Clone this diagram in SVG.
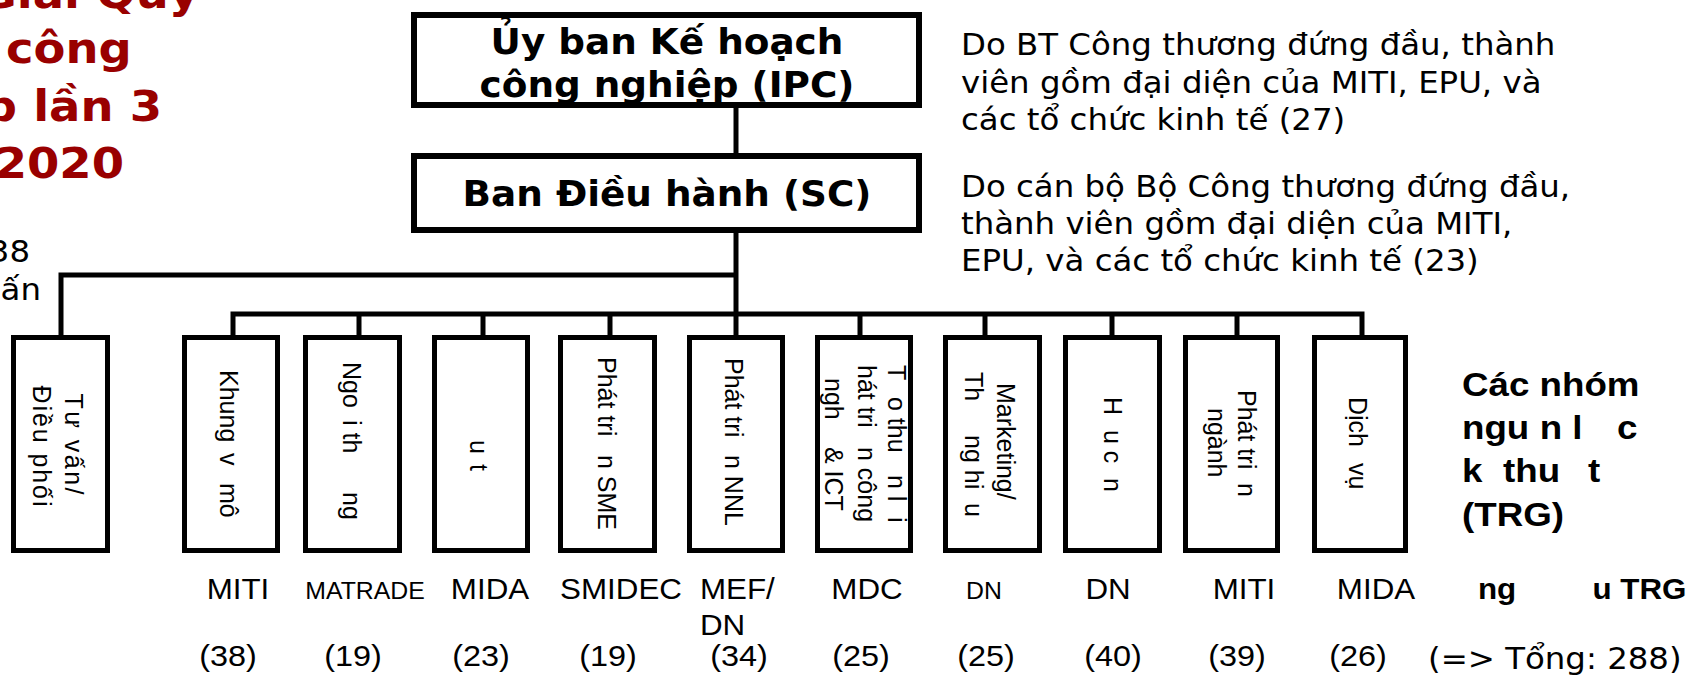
<svg xmlns="http://www.w3.org/2000/svg" width="1694" height="682" viewBox="0 0 1694 682">
<style>
.bigbox{fill:#fff;stroke:#000;stroke-width:6}
.box{fill:#fff;stroke:#000;stroke-width:5}
.wire{fill:none;stroke:#000;stroke-width:5;stroke-linejoin:miter;stroke-linecap:butt}
.vt{font-family:"DejaVu Sans",Verdana,sans-serif;font-size:30px;fill:#000}
.vb{font-family:"DejaVu Sans",Verdana,sans-serif;font-weight:bold;font-size:34.6px;fill:#000}
.title{font-family:"DejaVu Sans",Verdana,sans-serif;font-weight:bold;font-size:43px;fill:#990000}
.rot{font-family:"Liberation Sans",Arial,sans-serif;font-size:25px;fill:#000}
.lab{font-family:"Liberation Sans",Arial,sans-serif;font-size:29px;fill:#000;text-anchor:middle}
.cnt{font-size:30px}
.labs{font-size:23px}
.ab{font-family:"Liberation Sans",Arial,sans-serif;font-weight:bold;fill:#000}
</style>
<rect x="0" y="0" width="1694" height="682" fill="#fff"/>

<g id="title">
<text class="title" transform="translate(199,8) scale(1.08 1)" text-anchor="end">Giai Quy</text>
<text class="title" transform="translate(6,63) scale(1.08 1)">công</text>
<text class="title" transform="translate(162,121) scale(1.08 1)" text-anchor="end">p lần 3</text>
<text class="title" transform="translate(124,178) scale(1.08 1)" text-anchor="end">2020</text>
</g>

<g id="left-note">
<text class="vt" transform="translate(30,262) scale(1.08 1)" text-anchor="end">38</text>
<text class="vt" transform="translate(41,300) scale(1.08 1)" text-anchor="end">ấn</text>
</g>

<g id="connectors">
<path class="wire" d="M736,108 V153"/>
<path class="wire" d="M736,233 V335"/>
<path class="wire" d="M736,275 H61 V335"/>
<path class="wire" d="M233,335 V314 H1362 V335"/>
<path class="wire" d="M359,314 V335 M483,314 V335 M610,314 V335 M860,314 V335 M985,314 V335 M1112,314 V335 M1237,314 V335"/>
</g>

<g id="ipc">
<rect class="bigbox" x="414" y="15" width="505" height="90"/>
<text class="vb" transform="translate(667,54) scale(1.08 1)" text-anchor="middle">Ủy ban Kế hoạch</text>
<text class="vb" transform="translate(667,97) scale(1.08 1)" text-anchor="middle">công nghiệp (IPC)</text>
</g>

<g id="sc">
<rect class="bigbox" x="414" y="156" width="505" height="74"/>
<text class="vb" transform="translate(667,206) scale(1.08 1)" text-anchor="middle">Ban Điều hành (SC)</text>
</g>

<g id="ipc-note">
<text class="vt" transform="translate(961,55) scale(1.08 1)">Do BT Công thương đứng đầu, thành</text>
<text class="vt" transform="translate(961,93) scale(1.08 1)">viên gồm đại diện của MITI, EPU, và</text>
<text class="vt" transform="translate(961,130) scale(1.08 1)">các tổ chức kinh tế (27)</text>
</g>

<g id="sc-note">
<text class="vt" transform="translate(961,197) scale(1.08 1)">Do cán bộ Bộ Công thương đứng đầu,</text>
<text class="vt" transform="translate(961,234) scale(1.08 1)">thành viên gồm đại diện của MITI,</text>
<text class="vt" transform="translate(961,271) scale(1.08 1)">EPU, và các tổ chức kinh tế (23)</text>
</g>

<g id="tu-van">
<rect class="box" x="13.5" y="337.5" width="94" height="213"/>
<text class="rot" font-size="27" transform="translate(65,444) rotate(90)" text-anchor="middle" textLength="101" lengthAdjust="spacing">Tư vấn/</text>
<text class="rot" font-size="27" transform="translate(33,446) rotate(90)" text-anchor="middle" textLength="121" lengthAdjust="spacing">Điều phối</text>
</g>

<g id="trg1">
<rect class="box" x="184.5" y="337.5" width="93" height="213"/>
<text class="rot" transform="translate(220,370) rotate(90)"><tspan x="0">Khung</tspan><tspan x="83">v</tspan><tspan x="113">mô</tspan></text>
<text class="lab" transform="translate(238,599) scale(1.08 1)">MITI</text>
<text class="lab cnt" transform="translate(228,666) scale(1.08 1)">(38)</text>
</g>

<g id="trg2">
<rect class="box" x="305.5" y="337.5" width="94" height="213"/>
<text class="rot" transform="translate(343,362) rotate(90)"><tspan x="0">Ngo</tspan><tspan x="58">i th</tspan><tspan x="130">ng</tspan></text>
<text class="lab labs" transform="translate(365,599) scale(1.08 1)">MATRADE</text>
<text class="lab cnt" transform="translate(353,666) scale(1.08 1)">(19)</text>
</g>

<g id="trg3">
<rect class="box" x="434.5" y="337.5" width="93" height="213"/>
<text class="rot" transform="translate(470,440) rotate(90)"><tspan x="0">u</tspan><tspan x="24">t</tspan></text>
<text class="lab" transform="translate(490,599) scale(1.08 1)">MIDA</text>
<text class="lab cnt" transform="translate(481,666) scale(1.08 1)">(23)</text>
</g>

<g id="trg4">
<rect class="box" x="560.5" y="337.5" width="94" height="213"/>
<text class="rot" transform="translate(598,357) rotate(90)"><tspan x="0">Phát tri</tspan><tspan x="98">n SME</tspan></text>
<text class="lab" transform="translate(621,599) scale(1.08 1)">SMIDEC</text>
<text class="lab cnt" transform="translate(608,666) scale(1.08 1)">(19)</text>
</g>

<g id="trg5">
<rect class="box" x="689.5" y="337.5" width="93" height="213"/>
<text class="rot" transform="translate(725,358) rotate(90)"><tspan x="0">Phát tri</tspan><tspan x="97">n NNL</tspan></text>
<text class="lab" transform="translate(700,599) scale(1.08 1)" style="text-anchor:start">MEF/</text>
<text class="lab" transform="translate(700,635) scale(1.08 1)" style="text-anchor:start">DN</text>
<text class="lab cnt" transform="translate(739,666) scale(1.08 1)">(34)</text>
</g>

<g id="trg6">
<rect class="box" x="817.5" y="337.5" width="93" height="213"/>
<text class="rot" transform="translate(888,365) rotate(90)"><tspan x="0" y="0">T</tspan><tspan x="32" y="0">o thu</tspan><tspan x="110" y="0">n l</tspan><tspan x="152" y="0">i</tspan><tspan x="0" y="30">hát tri</tspan><tspan x="82" y="30">n công</tspan><tspan x="13" y="63">ngh</tspan><tspan x="82" y="63">&amp; ICT</tspan></text>
<text class="lab" transform="translate(867,599) scale(1.08 1)">MDC</text>
<text class="lab cnt" transform="translate(861,666) scale(1.08 1)">(25)</text>
</g>

<g id="trg7">
<rect class="box" x="945.5" y="337.5" width="94" height="213"/>
<text class="rot" transform="translate(997,372) rotate(90)"><tspan x="11" y="0">Marketing/</tspan><tspan x="0" y="32">Th</tspan><tspan x="63" y="32">ng hi</tspan><tspan x="131" y="32">u</tspan></text>
<text class="lab labs" transform="translate(984,599) scale(1.08 1)">DN</text>
<text class="lab cnt" transform="translate(986,666) scale(1.08 1)">(25)</text>
</g>

<g id="trg8">
<rect class="box" x="1065.5" y="337.5" width="94" height="213"/>
<text class="rot" transform="translate(1104,397) rotate(90)"><tspan x="0">H</tspan><tspan x="33">u c</tspan><tspan x="81">n</tspan></text>
<text class="lab" transform="translate(1108,599) scale(1.08 1)">DN</text>
<text class="lab cnt" transform="translate(1113,666) scale(1.08 1)">(40)</text>
</g>

<g id="trg9">
<rect class="box" x="1185.5" y="337.5" width="92" height="213"/>
<text class="rot" transform="translate(1238,390) rotate(90)"><tspan x="0" y="0">Phát tri</tspan><tspan x="93" y="0">n</tspan><tspan x="18" y="30">ngành</tspan></text>
<text class="lab" transform="translate(1244,599) scale(1.08 1)">MITI</text>
<text class="lab cnt" transform="translate(1237,666) scale(1.08 1)">(39)</text>
</g>

<g id="trg10">
<rect class="box" x="1314.5" y="337.5" width="91" height="213"/>
<text class="rot" transform="translate(1349,397) rotate(90)"><tspan x="0">Dịch</tspan><tspan x="66">vụ</tspan></text>
<text class="lab" transform="translate(1376,599) scale(1.08 1)">MIDA</text>
<text class="lab cnt" transform="translate(1358,666) scale(1.08 1)">(26)</text>
</g>

<g id="trg-legend">
<text class="ab" font-size="34" transform="translate(1462,396) scale(1.08 1)">Các nhóm</text>
<text class="ab" font-size="34" transform="translate(1462,439) scale(1.08 1)"><tspan x="0">ngu</tspan><tspan x="72">n l</tspan><tspan x="143.5">c</tspan></text>
<text class="ab" font-size="34" transform="translate(1462,482) scale(1.08 1)"><tspan x="0">k</tspan><tspan x="38">thu</tspan><tspan x="116.7">t</tspan></text>
<text class="ab" font-size="34" transform="translate(1462,526) scale(1.08 1)">(TRG)</text>
<text class="ab" font-size="29" transform="translate(1478,599) scale(1.08 1)"><tspan x="0">ng</tspan><tspan x="106">u TRG</tspan></text>
<text class="vt" font-size="30.5" transform="translate(1428,669) scale(1.08 1)">(=&gt; Tổng: 288)</text>
</g>
</svg>
